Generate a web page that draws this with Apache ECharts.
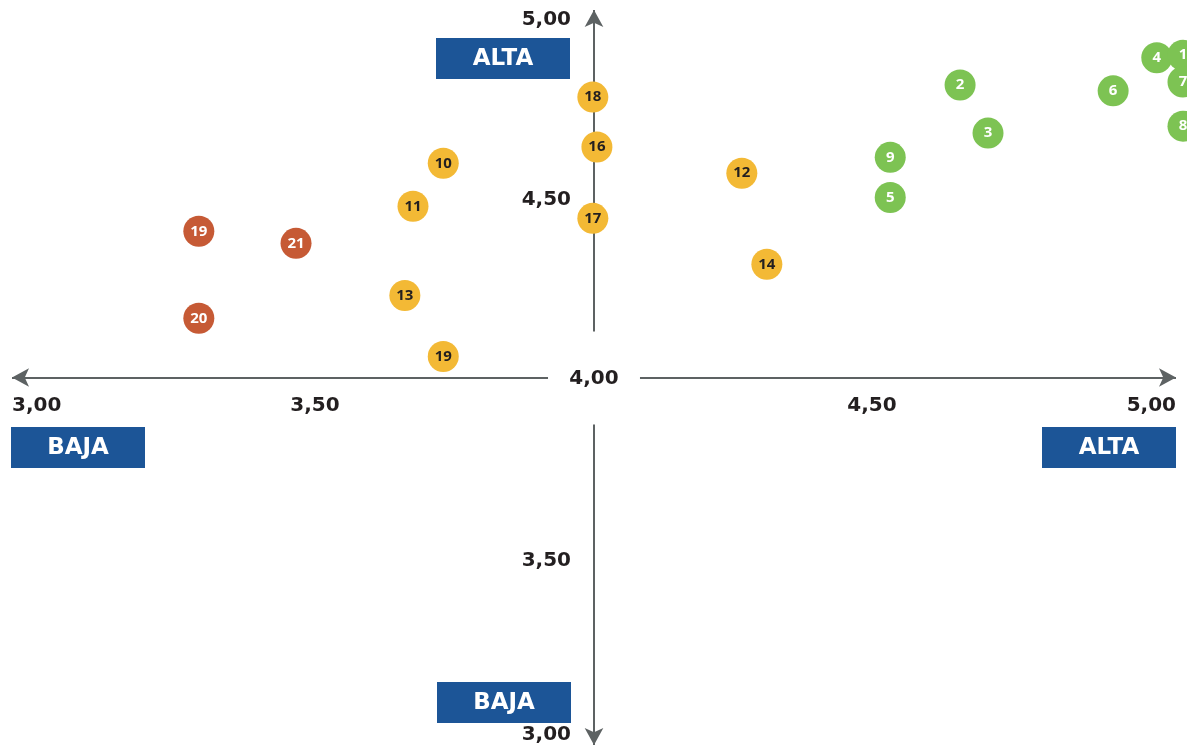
<!DOCTYPE html>
<html>
<head>
<meta charset="utf-8">
<style>
  html, body { margin: 0; padding: 0; background: #fff; }
  .w_chart { width: 1187px; height: 751px; }
</style>
<script src="https://cdn.jsdelivr.net/npm/echarts@6/dist/echarts.min.js"></script>
</head>
<body>
<div class="matrix"><div class="w_chart"></div></div>
<script>
// data
var xTicks = [3, 3.5, 4, 4.5, 5];
var yTicks = [3, 3.5, 4, 4.5, 5];

// [x, y, number]
var greenPoints = [
  [4.629, 4.796, "2"],
  [4.677, 4.665, "3"],
  [4.509, 4.49, "5"],
  [4.509, 4.599, "9"],
  [4.892, 4.78, "6"],
  [4.967, 4.87, "4"],
  [5.012, 4.877, "1"],
  [5.012, 4.804, "7"],
  [5.012, 4.684, "8"]
];
var yellowPoints = [
  [3.741, 4.583, "10"],
  [3.689, 4.466, "11"],
  [4.254, 4.556, "12"],
  [3.675, 4.223, "13"],
  [4.297, 4.308, "14"],
  [4.005, 4.627, "16"],
  [3.998, 4.433, "17"],
  [3.998, 4.763, "18"],
  [3.741, 4.057, "19"]
];
var redPoints = [
  [3.321, 4.398, "19"],
  [3.321, 4.161, "20"],
  [3.488, 4.365, "21"]
];

// axis segments around the centre label
var axisSegments = [
  [[3.921, 4], [3, 4]],
  [[4.079, 4], [5, 4]],
  [[4, 4.125], [4, 5]],
  [[4, 3.872], [4, 3]]
];

(function() {
  var myChart = echarts.init(document.querySelector(".matrix .w_chart"));

  var font = "'DejaVu Sans', sans-serif";
  var dotFont = "'Open Sans', sans-serif";
  var textColor = "#231f20";
  var axisColor = "#5d6263";
  var boxColor = "#1c5597";

  function fmt(v) {
    return v.toFixed(2).replace(".", ",");
  }

  function bubble(name, data, color, labelColor) {
    return {
      name: name,
      type: "scatter",
      data: data,
      symbolSize: 31,
      clip: false,
      z: 10,
      itemStyle: { color: color, opacity: 1 },
      label: {
        show: true,
        position: "inside",
        formatter: function(p) { return p.value[2]; },
        color: labelColor,
        fontFamily: dotFont,
        fontWeight: "bold",
        fontSize: 15
      }
    };
  }

  function box(text, left, top) {
    return {
      type: "group",
      left: left,
      top: top,
      children: [
        { type: "rect", shape: { x: 0, y: 0, width: 134, height: 41 }, style: { fill: boxColor } },
        {
          type: "text",
          x: 67, y: 21,
          style: {
            text: text, fill: "#fff", font: "bold 23px " + font,
            align: "center", verticalAlign: "middle"
          }
        }
      ]
    };
  }

  var labelBase = { fontFamily: font, fontWeight: "bold", fontSize: 20, color: textColor };

  var option = {
    animation: false,
    grid: { left: 12, right: 11, top: 10, bottom: 6 },
    xAxis: {
      type: "value",
      min: xTicks[0],
      max: xTicks[xTicks.length - 1],
      interval: 0.5,
      offset: -367,
      axisLine: { show: false },
      axisTick: { show: false },
      splitLine: { show: false },
      axisLabel: Object.assign({
        margin: 18,
        alignMinLabel: "left",
        alignMaxLabel: "right",
        formatter: function(v) {
          if (v === 4) return "";
          if (v === 3.5) return "{l|" + fmt(v) + "}";
          if (v === 4.5) return "{r|" + fmt(v) + "}";
          return fmt(v);
        },
        rich: {
          l: Object.assign({ padding: [0, 0, 0, 24] }, labelBase),
          r: Object.assign({ padding: [0, 26, 0, 0] }, labelBase)
        }
      }, labelBase)
    },
    yAxis: {
      type: "value",
      min: yTicks[0],
      max: yTicks[yTicks.length - 1],
      interval: 0.5,
      offset: -582,
      axisLine: { show: false },
      axisTick: { show: false },
      splitLine: { show: false },
      axisLabel: Object.assign({
        margin: 23,
        verticalAlignMaxLabel: "top",
        verticalAlignMinLabel: "bottom",
        formatter: function(v) {
          if (v === 4) return "";
          if (v === 4.5) return "{d|" + fmt(v) + "}";
          return fmt(v);
        },
        rich: {
          d: Object.assign({ padding: [12, 0, 0, 0] }, labelBase)
        }
      }, labelBase)
    },
    series: [
      {
        type: "scatter",
        data: [],
        z: 1,
        silent: true,
        markLine: {
          silent: true,
          z: 1,
          symbol: ["none", "arrow"],
          symbolSize: [14, 17],
          label: { show: false },
          lineStyle: { color: axisColor, width: 2, type: "solid" },
          data: axisSegments.map(function(s) {
            return [{ coord: s[0] }, { coord: s[1] }];
          })
        }
      },
      bubble("green", greenPoints, "#7dc353", "#fff"),
      bubble("yellow", yellowPoints, "#f3b935", textColor),
      bubble("red", redPoints, "#c65a35", "#fff")
    ]
  };

  myChart.setOption(option);

  // centre label and quadrant boxes
  var c = myChart.convertToPixel({ gridIndex: 0 }, [4, 4]);
  myChart.setOption({
    graphic: [
      {
        type: "text",
        x: c[0], y: c[1] + 1,
        style: {
          text: fmt(4), fill: textColor, font: "bold 20px " + font,
          align: "center", verticalAlign: "middle"
        }
      },
      box("ALTA", 436, 38),
      box("BAJA", 11, 427),
      box("ALTA", 1042, 427),
      box("BAJA", 437, 682)
    ]
  });

  window.addEventListener("resize", function() {
    myChart.resize();
  });
})();
</script>
</body>
</html>
